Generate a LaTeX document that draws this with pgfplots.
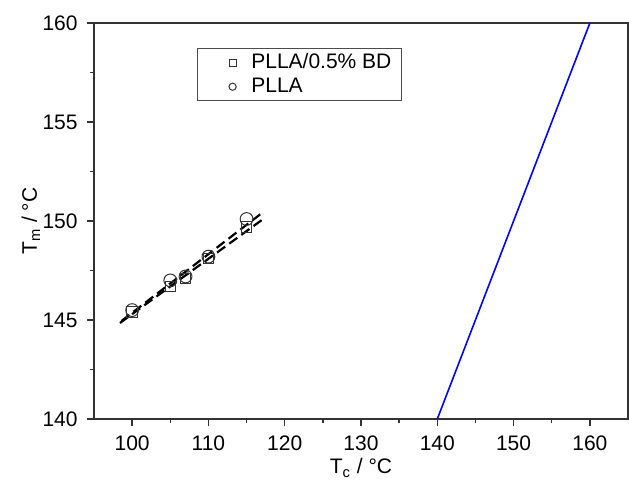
\documentclass[border=0pt]{standalone}
\usepackage{fontspec}
\setmainfont{Liberation Sans}
\usepackage{pgfplots}
\pgfplotsset{compat=1.18}
\begin{document}
\fontsize{10.5}{12}\selectfont
\begin{tikzpicture}
\begin{axis}[
  scale only axis,
  width=267pt, height=198pt,
  xmin=95, xmax=165, ymin=140, ymax=160,
  xtick={100,110,...,160}, ytick={140,145,...,160},
  minor xtick={105,115,...,155}, minor ytick={142.5,147.5,152.5,157.5},
  tick align=outside,
  xtick pos=bottom, ytick pos=left,
  major tick length=3.5pt, minor tick length=2pt,
  axis line style={line width=0.9pt, black!80},
  every tick/.style={line width=0.7pt, black!80},
  /pgf/number format/assume math mode=true,
  xticklabel style={font=\fontsize{10.5}{12}\selectfont, yshift=-1pt},
  yticklabel style={font=\fontsize{10.5}{12}\selectfont, xshift=-1pt},
  xlabel={T$_\mathrm{c}$ / °C},
  ylabel={T$_\mathrm{m}$ / °C},
  xlabel style={font=\fontsize{10.5}{12}\selectfont, at={(ticklabel cs:0.5)}, anchor=north, yshift=3pt},
  ylabel style={font=\fontsize{10.5}{12}\selectfont, yshift=-6pt},
  legend style={at={(0.193,0.937)}, anchor=north west, draw=black!70, line width=0.6pt,
     font=\fontsize{10.5}{12}\selectfont, row sep=-1pt, inner xsep=3pt, inner ysep=0.5pt,
     legend cell align=left},
  legend image code/.code={\path (0,0) (0.75cm,0); \draw[#1, mark size=1.8pt, line width=0.5pt] plot coordinates {(0.5cm,0cm)};},
]
\addplot[only marks, mark=square, mark size=2.6pt, black!80, line width=0.5pt,
  mark options={solid}] coordinates {
  (100,145.4) (105,146.7) (107,147.1) (110,148.1) (115,149.7)};
\addlegendentry{PLLA/0.5\% BD}
\addplot[only marks, mark=o, mark size=3.2pt, black!80, line width=0.5pt,
  mark options={solid}] coordinates {
  (100,145.5) (105,147.0) (107,147.2) (110,148.2) (115,150.1)};
\addlegendentry{PLLA}
\addplot[black, dashed, line width=1.1pt, dash pattern=on 5pt off 2.5pt, forget plot] coordinates {(98.4,144.85) (117,150.05)};
\addplot[black, dashed, line width=1.1pt, dash pattern=on 5pt off 2.5pt, forget plot] coordinates {(98.6,144.95) (117,150.4)};
\addplot[blue, line width=0.8pt, forget plot] coordinates {(140,140) (160,160)};
\end{axis}
\pgfresetboundingbox
\path ([shift={(-47pt,-34pt)}]current axis.south west) rectangle ([shift={(0.5pt,11.5pt)}]current axis.north east);
\end{tikzpicture}
\end{document}
